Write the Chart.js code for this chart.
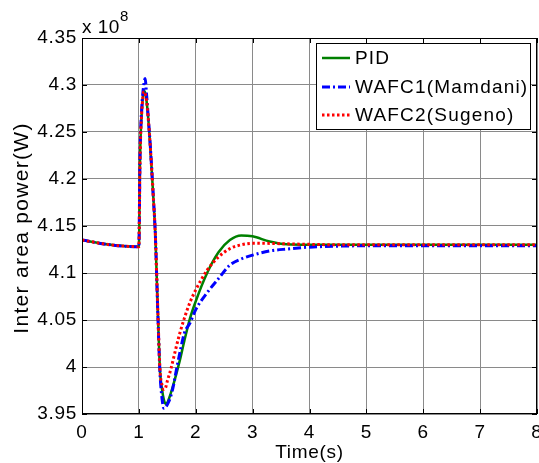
<!DOCTYPE html>
<html lang="en">
<head>
    <meta charset="UTF-8">
    <title>Inter area power</title>
    <script src="https://cdn.jsdelivr.net/npm/chart.js"></script>
    <style>
        body { margin: 0; background: #fff; }
        #wrap { width: 539px; height: 463px; }
    </style>
</head>
<body>
<div id="wrap"><canvas id="powerChart" width="539" height="463"></canvas></div>
<script>
    // time axis (s) and power values (x 10^8 W)
    const times = [0, 0.5, 1.0, 1.02, 1.05, 1.09, 1.11, 1.135, 1.16, 1.2, 1.25, 1.29, 1.33, 1.37, 1.41, 1.44, 1.47, 1.5, 1.55, 1.6, 1.66, 1.72, 1.8, 1.9, 2.0, 2.2, 2.4, 2.6, 2.8, 3.0, 3.3, 3.6, 4.0, 4.5, 5, 6, 7, 8];
    const pid = [4.135, 4.130, 4.128, 4.22, 4.27, 4.294, 4.292, 4.283, 4.268, 4.235, 4.185, 4.14, 4.065, 3.998, 3.975, 3.965, 3.961, 3.962, 3.970, 3.980, 3.993, 4.007, 4.028, 4.052, 4.070, 4.100, 4.122, 4.135, 4.140, 4.139, 4.1335, 4.1305, 4.130, 4.130, 4.130, 4.130, 4.130, 4.130];
    const wafc1 = [4.135, 4.130, 4.128, 4.225, 4.275, 4.302, 4.307, 4.29, 4.27, 4.236, 4.185, 4.14, 4.063, 3.995, 3.965, 3.956, 3.957, 3.960, 3.967, 3.978, 3.997, 4.015, 4.036, 4.047, 4.061, 4.079, 4.094, 4.1085, 4.115, 4.119, 4.1234, 4.1255, 4.1275, 4.1285, 4.129, 4.129, 4.129, 4.129];
    const wafc2 = [4.135, 4.130, 4.128, 4.22, 4.27, 4.293, 4.291, 4.283, 4.268, 4.235, 4.185, 4.14, 4.066, 3.998, 3.980, 3.976, 3.978, 3.985, 3.995, 4.007, 4.022, 4.036, 4.052, 4.069, 4.082, 4.103, 4.117, 4.126, 4.130, 4.1316, 4.1315, 4.131, 4.1305, 4.130, 4.130, 4.130, 4.130, 4.130];
    const xTicks = [0, 1, 2, 3, 4, 5, 6, 7, 8];
    const yTicks = [3.95, 4, 4.05, 4.1, 4.15, 4.2, 4.25, 4.3, 4.35];
    const yTitle = 'Inter area power(W)';

    const FONT = "'Liberation Sans', Arial, sans-serif";

    function points(vals) {
        return times.map((t, i) => ({ x: t, y: vals[i] }));
    }

    // box, inward ticks, exponent label and legend, matlab style
    const matlabAxes = {
        id: 'matlabAxes',
        beforeDraw(chart) {
            chart.ctx.letterSpacing = '0.7px';
        },
        afterDatasetsDraw(chart) {
            const ctx = chart.ctx;
            const a = chart.chartArea;
            const xs = chart.scales.x, ys = chart.scales.y;
            ctx.save();
            ctx.strokeStyle = '#000';
            ctx.lineWidth = 1;
            ctx.beginPath();
            xTicks.forEach(v => {
                const px = Math.round(xs.getPixelForValue(v)) + 0.5;
                ctx.moveTo(px, a.bottom); ctx.lineTo(px, a.bottom - 5);
                ctx.moveTo(px, a.top); ctx.lineTo(px, a.top + 5);
            });
            yTicks.forEach(v => {
                const py = Math.round(ys.getPixelForValue(v)) + 0.5;
                ctx.moveTo(a.left, py); ctx.lineTo(a.left + 5, py);
                ctx.moveTo(a.right, py); ctx.lineTo(a.right - 5, py);
            });
            ctx.stroke();
            ctx.strokeRect(Math.round(a.left) + 0.5, Math.round(a.top) + 0.5,
                Math.round(a.right - a.left) - 1, Math.round(a.bottom - a.top) - 1);

            // exponent
            ctx.fillStyle = '#000';
            ctx.textBaseline = 'alphabetic';
            ctx.textAlign = 'left';
            ctx.letterSpacing = '0.5px';
            ctx.font = '19px ' + FONT;
            ctx.fillText('x 10', 82, 33);
            ctx.font = '15px ' + FONT;
            ctx.fillText('8', 120, 21);

            // y axis title
            ctx.save();
            ctx.translate(22, (a.top + a.bottom) / 2 + 2);
            ctx.rotate(-Math.PI / 2);
            ctx.letterSpacing = '1.3px';
            ctx.font = '21px ' + FONT;
            ctx.textAlign = 'center';
            ctx.textBaseline = 'middle';
            ctx.fillText(yTitle, 0, 0);
            ctx.restore();

            // legend
            const lx = 316, ly = 43, lw = 214, lh = 86;
            ctx.fillStyle = '#fff';
            ctx.fillRect(lx, ly, lw, lh);
            ctx.strokeRect(lx + 0.5, ly + 0.5, lw, lh);
            const rows = [58, 87, 115];
            chart.data.datasets.forEach((ds, i) => {
                ctx.save();
                ctx.strokeStyle = ds.borderColor;
                ctx.lineWidth = ds.borderWidth;
                ctx.setLineDash(ds.borderDash || []);
                ctx.beginPath();
                ctx.moveTo(322, rows[i]);
                ctx.lineTo(350, rows[i]);
                ctx.stroke();
                ctx.restore();
                ctx.fillStyle = '#000';
                ctx.letterSpacing = '1.2px';
                ctx.font = '19px ' + FONT;
                ctx.textBaseline = 'middle';
                ctx.textAlign = 'left';
                ctx.fillText(ds.label, 355, rows[i] + 1);
            });
            ctx.restore();
        }
    };

    new Chart(document.getElementById('powerChart'), {
        type: 'line',
        data: {
            datasets: [
                {
                    label: 'PID',
                    data: points(pid),
                    borderColor: 'rgb(0,128,0)',
                    borderWidth: 2.5,
                    order: 3
                },
                {
                    label: 'WAFC1(Mamdani)',
                    data: points(wafc1),
                    borderColor: 'rgb(0,0,255)',
                    borderWidth: 3,
                    borderDash: [8, 3, 2, 3],
                    order: 2
                },
                {
                    label: 'WAFC2(Sugeno)',
                    data: points(wafc2),
                    borderColor: 'rgb(255,0,0)',
                    borderWidth: 3,
                    borderDash: [2.5, 2.5],
                    order: 1
                }
            ]
        },
        options: {
            responsive: false,
            animation: false,
            devicePixelRatio: 1,
            elements: {
                point: { radius: 0 },
                line: { cubicInterpolationMode: 'monotone' }
            },
            layout: { padding: { top: 38, right: 2, left: 0, bottom: 0 } },
            plugins: {
                legend: { display: false },
                tooltip: { enabled: false }
            },
            scales: {
                x: {
                    type: 'linear',
                    min: 0,
                    max: 8,
                    afterBuildTicks: s => { s.ticks = xTicks.map(v => ({ value: v })); },
                    afterFit: s => { s.height = 49; s.paddingLeft = 0; s.paddingRight = 0; },
                    grid: { color: '#8a8a8a', drawTicks: false },
                    border: { display: false },
                    ticks: {
                        color: '#000',
                        padding: 7,
                        maxRotation: 0,
                        autoSkip: false,
                        font: { family: FONT, size: 19 }
                    },
                    title: {
                        display: true,
                        text: 'Time(s)',
                        color: '#000',
                        font: { family: FONT, size: 19, lineHeight: 1 },
                        padding: { top: 0, bottom: 1 }
                    }
                },
                y: {
                    min: 3.95,
                    max: 4.35,
                    afterBuildTicks: s => { s.ticks = yTicks.map(v => ({ value: v })); },
                    afterFit: s => { s.width = 82; s.paddingTop = 0; s.paddingBottom = 0; },
                    grid: { color: '#8a8a8a', drawTicks: false },
                    border: { display: false },
                    ticks: {
                        color: '#000',
                        padding: 5,
                        autoSkip: false,
                        font: { family: FONT, size: 19 },
                        callback: v => String(Number(v.toFixed(2)))
                    }
                }
            }
        },
        plugins: [matlabAxes]
    });
</script>
</body>
</html>
